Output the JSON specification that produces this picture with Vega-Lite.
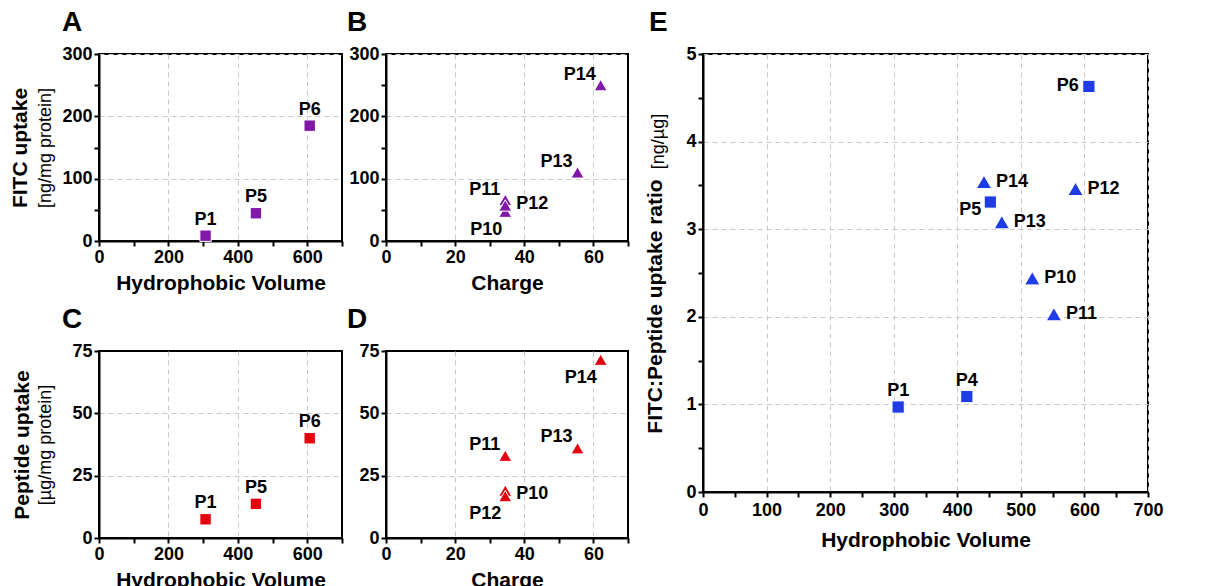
{
  "$schema": "https://vega.github.io/schema/vega-lite/v6.json",
  "padding": {"left": 7, "top": 8, "right": 5, "bottom": 5},
  "background": "white",
  "datasets": {
    "pep": [
      {"label": "P1", "group": "volume", "volume": 307, "charge": null, "fitc": 8.5, "peptide": 7.5, "ratio": 0.97},
      {"label": "P4", "group": "volume", "volume": 415, "charge": null, "fitc": null, "peptide": null, "ratio": 1.09},
      {"label": "P5", "group": "volume", "volume": 452, "charge": null, "fitc": 44.5, "peptide": 13.7, "ratio": 3.31},
      {"label": "P6", "group": "volume", "volume": 607, "charge": null, "fitc": 185, "peptide": 40, "ratio": 4.63},
      {"label": "P10", "group": "charge", "volume": 518, "charge": 34.5, "fitc": 47, "peptide": 19, "ratio": 2.44},
      {"label": "P11", "group": "charge", "volume": 552, "charge": 34.5, "fitc": 66, "peptide": 33, "ratio": 2.03},
      {"label": "P12", "group": "charge", "volume": 586, "charge": 34.5, "fitc": 57, "peptide": 16.8, "ratio": 3.46},
      {"label": "P13", "group": "charge", "volume": 470, "charge": 55.4, "fitc": 110, "peptide": 36, "ratio": 3.08},
      {"label": "P14", "group": "charge", "volume": 442, "charge": 62.1, "fitc": 250, "peptide": 71.5, "ratio": 3.54}
    ]
  },
  "data": {"name": "pep"},
  "config": {
    "font": "Liberation Sans",
    "view": {"stroke": "black", "strokeWidth": 2},
    "axis": {
      "domainColor": "black", "domainWidth": 2,
      "tickColor": "black", "tickWidth": 2, "tickSize": 5,
      "labelFont": "Liberation Sans", "labelFontSize": 18, "labelFontWeight": "bold", "labelColor": "black",
      "labelPadding": 2, "labelFlush": false, "labelOverlap": false,
      "titleFont": "Liberation Sans", "titleFontSize": 21, "titleFontWeight": "bold", "titleColor": "black",
      "gridColor": "#c8c8c8", "gridDash": [5, 4], "gridWidth": 1
    },
    "axisX": {"titlePadding": 6},
    "title": {"fontSize": 28, "fontWeight": "bold", "anchor": "start", "frame": "group", "color": "black", "offset": 8, "font": "Liberation Sans"},
    "text": {"fontSize": 18, "fontWeight": "bold", "font": "Liberation Sans", "color": "black", "baseline": "middle"}
  },
  "hconcat": [
    {
      "vconcat": [
        {
          "hconcat": [
            {
              "title": {"text": "A", "dx": -37},
              "width": 243, "height": 187,
              "transform": [{"filter": "datum.group === 'volume' && isValid(datum.fitc)"}],
              "encoding": {
                "x": {"field": "volume", "type": "quantitative", "scale": {"domain": [0, 700], "nice": false},
                  "axis": {"title": "Hydrophobic Volume", "values": [0, 100, 200, 300, 400, 500, 600, 700],
                    "labelExpr": "datum.value % 200 === 0 ? datum.label : ''",
                    "gridOpacity": {"condition": {"test": "datum.value % 200 === 0", "value": 1}, "value": 0}}},
                "y": {"field": "fitc", "type": "quantitative", "scale": {"domain": [0, 300], "nice": false},
                  "axis": {"title": "FITC uptake", "titleX": -69, "values": [0, 50, 100, 150, 200, 250, 300],
                    "labelExpr": "datum.value % 100 === 0 ? datum.label : ''",
                    "gridOpacity": {"condition": {"test": "datum.value % 100 === 0", "value": 1}, "value": 0}}}
              },
              "layer": [
                {"mark": {"type": "point", "shape": "square", "filled": true, "color": "#8218A8", "opacity": 1, "size": 130, "stroke": "white", "strokeWidth": 1}},
                {"mark": {"type": "text", "dy": -16},
                  "encoding": {"text": {"field": "label"},
                    "y": {"field": "fitc", "type": "quantitative",
                      "axis": {"orient": "left", "title": "[ng/mg protein]", "titleFontWeight": "normal", "titleFontSize": 18, "titleX": -45, "labels": false, "ticks": false, "domain": false, "grid": false}}}}
              ],
              "resolve": {"axis": {"y": "independent"}}
            },
            {
              "title": {"text": "B", "dx": -39},
              "width": 242, "height": 187,
              "transform": [{"filter": "datum.group === 'charge'"}],
              "encoding": {
                "x": {"field": "charge", "type": "quantitative", "scale": {"domain": [0, 70], "nice": false},
                  "axis": {"title": "Charge", "values": [0, 10, 20, 30, 40, 50, 60, 70],
                    "labelExpr": "datum.value % 20 === 0 ? datum.label : ''",
                    "gridOpacity": {"condition": {"test": "datum.value % 20 === 0", "value": 1}, "value": 0}}},
                "y": {"field": "fitc", "type": "quantitative", "scale": {"domain": [0, 300], "nice": false},
                  "axis": {"title": null, "values": [0, 50, 100, 150, 200, 250, 300],
                    "labelExpr": "datum.value % 100 === 0 ? datum.label : ''",
                    "gridOpacity": {"condition": {"test": "datum.value % 100 === 0", "value": 1}, "value": 0}}}
              },
              "layer": [
                {"mark": {"type": "point", "shape": "triangle-up", "filled": true, "color": "#8218A8", "opacity": 1, "size": 170, "stroke": "white", "strokeWidth": 1}},
                {"transform": [{"filter": {"field": "label", "oneOf": ["P11", "P13", "P14"]}}],
                  "mark": {"type": "text", "align": "right", "dx": -5, "dy": -10}, "encoding": {"text": {"field": "label"}}},
                {"transform": [{"filter": {"field": "label", "oneOf": ["P12"]}}],
                  "mark": {"type": "text", "align": "left", "dx": 11, "dy": -1}, "encoding": {"text": {"field": "label"}}},
                {"transform": [{"filter": {"field": "label", "oneOf": ["P10"]}}],
                  "mark": {"type": "text", "align": "right", "dx": -3, "dy": 18}, "encoding": {"text": {"field": "label"}}}
              ]
            }
          ],
          "spacing": 2
        },
        {
          "hconcat": [
            {
              "title": {"text": "C", "dx": -37},
              "width": 243, "height": 187,
              "transform": [{"filter": "datum.group === 'volume' && isValid(datum.peptide)"}],
              "encoding": {
                "x": {"field": "volume", "type": "quantitative", "scale": {"domain": [0, 700], "nice": false},
                  "axis": {"title": "Hydrophobic Volume", "values": [0, 100, 200, 300, 400, 500, 600, 700],
                    "labelExpr": "datum.value % 200 === 0 ? datum.label : ''",
                    "gridOpacity": {"condition": {"test": "datum.value % 200 === 0", "value": 1}, "value": 0}}},
                "y": {"field": "peptide", "type": "quantitative", "scale": {"domain": [0, 75], "nice": false},
                  "axis": {"title": "Peptide uptake", "titleX": -67, "values": [0, 25, 50, 75],
                    "gridOpacity": {"condition": {"test": "datum.value < 75", "value": 1}, "value": 0}}}
              },
              "layer": [
                {"mark": {"type": "point", "shape": "square", "filled": true, "color": "#E3000F", "opacity": 1, "size": 130, "stroke": "white", "strokeWidth": 1}},
                {"mark": {"type": "text", "dy": -16},
                  "encoding": {"text": {"field": "label"},
                    "y": {"field": "peptide", "type": "quantitative",
                      "axis": {"orient": "left", "title": "[µg/mg protein]", "titleFontWeight": "normal", "titleFontSize": 18, "titleX": -45, "labels": false, "ticks": false, "domain": false, "grid": false}}}}
              ],
              "resolve": {"axis": {"y": "independent"}}
            },
            {
              "title": {"text": "D", "dx": -39},
              "width": 242, "height": 187,
              "transform": [{"filter": "datum.group === 'charge'"}],
              "encoding": {
                "x": {"field": "charge", "type": "quantitative", "scale": {"domain": [0, 70], "nice": false},
                  "axis": {"title": "Charge", "values": [0, 10, 20, 30, 40, 50, 60, 70],
                    "labelExpr": "datum.value % 20 === 0 ? datum.label : ''",
                    "gridOpacity": {"condition": {"test": "datum.value % 20 === 0", "value": 1}, "value": 0}}},
                "y": {"field": "peptide", "type": "quantitative", "scale": {"domain": [0, 75], "nice": false},
                  "axis": {"title": null, "values": [0, 25, 50, 75],
                    "gridOpacity": {"condition": {"test": "datum.value < 75", "value": 1}, "value": 0}}}
              },
              "layer": [
                {"mark": {"type": "point", "shape": "triangle-up", "filled": true, "color": "#E3000F", "opacity": 1, "size": 170, "stroke": "white", "strokeWidth": 1}},
                {"transform": [{"filter": {"field": "label", "oneOf": ["P11", "P13"]}}],
                  "mark": {"type": "text", "align": "right", "dx": -5, "dy": -11}, "encoding": {"text": {"field": "label"}}},
                {"transform": [{"filter": {"field": "label", "oneOf": ["P10"]}}],
                  "mark": {"type": "text", "align": "left", "dx": 11, "dy": 3}, "encoding": {"text": {"field": "label"}}},
                {"transform": [{"filter": {"field": "label", "oneOf": ["P12", "P14"]}}],
                  "mark": {"type": "text", "align": "right", "dx": -4, "dy": 18}, "encoding": {"text": {"field": "label"}}}
              ]
            }
          ],
          "spacing": 2
        }
      ],
      "spacing": 11
    },
    {
      "title": {"text": "E", "dx": -54},
      "width": 445, "height": 438,
      "encoding": {
        "x": {"field": "volume", "type": "quantitative", "scale": {"domain": [0, 700], "nice": false},
          "axis": {"title": "Hydrophobic Volume", "titlePadding": 10, "labelPadding": 4, "values": [0, 50, 100, 150, 200, 250, 300, 350, 400, 450, 500, 550, 600, 650, 700],
            "labelExpr": "datum.value % 100 === 0 ? datum.label : ''",
            "gridOpacity": {"condition": {"test": "datum.value % 100 === 0", "value": 1}, "value": 0}}},
        "y": {"field": "ratio", "type": "quantitative", "scale": {"domain": [0, 5], "nice": false},
          "axis": {"title": "FITC:Peptide uptake ratio", "titleX": -38, "titleY": 252, "values": [0, 0.5, 1, 1.5, 2, 2.5, 3, 3.5, 4, 4.5, 5],
            "labelExpr": "datum.value % 1 === 0 ? format(datum.value, 'd') : ''",
            "gridOpacity": {"condition": {"test": "datum.value % 1 === 0", "value": 1}, "value": 0}}}
      },
      "layer": [
        {"transform": [{"filter": "datum.group === 'volume'"}],
          "mark": {"type": "point", "shape": "square", "filled": true, "color": "#1E3CE6", "opacity": 1, "size": 150, "stroke": "white", "strokeWidth": 1}},
        {"transform": [{"filter": "datum.group === 'charge'"}],
          "mark": {"type": "point", "shape": "triangle-up", "filled": true, "color": "#1E3CE6", "opacity": 1, "size": 235, "stroke": "white", "strokeWidth": 1},
          "encoding": {"y": {"field": "ratio", "type": "quantitative",
              "axis": {"orient": "left", "title": "[ng/µg]", "titleFontWeight": "normal", "titleFontSize": 18, "titleX": -36, "titleY": 87, "labels": false, "ticks": false, "domain": false, "grid": false}}}},
        {"transform": [{"filter": {"field": "label", "oneOf": ["P10", "P11", "P12", "P13", "P14"]}}],
          "mark": {"type": "text", "align": "left", "dx": 12},
          "encoding": {"text": {"field": "label"}, "y": {"field": "ratio", "type": "quantitative", "axis": null}}},
        {"transform": [{"filter": {"field": "label", "oneOf": ["P1", "P4"]}}],
          "mark": {"type": "text", "dy": -16},
          "encoding": {"text": {"field": "label"}, "y": {"field": "ratio", "type": "quantitative", "axis": null}}},
        {"transform": [{"filter": {"field": "label", "oneOf": ["P6"]}}],
          "mark": {"type": "text", "align": "right", "dx": -10},
          "encoding": {"text": {"field": "label"}, "y": {"field": "ratio", "type": "quantitative", "axis": null}}},
        {"transform": [{"filter": {"field": "label", "oneOf": ["P5"]}}],
          "mark": {"type": "text", "align": "right", "dx": -9, "dy": 8},
          "encoding": {"text": {"field": "label"}, "y": {"field": "ratio", "type": "quantitative", "axis": null}}}
      ],
      "resolve": {"axis": {"y": "independent"}}
    }
  ],
  "spacing": 13
}
